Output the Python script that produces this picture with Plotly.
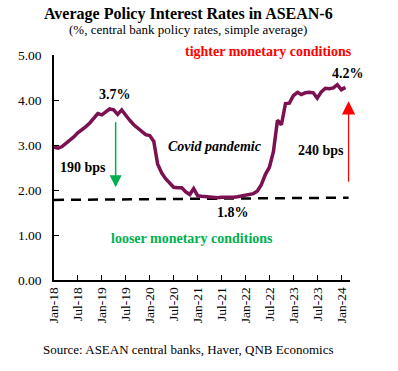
import plotly.graph_objects as go
import pandas as pd

# ---- data ----
months = pd.date_range("2018-01-01", "2024-02-01", freq="MS")
policy_rate = [2.95, 2.93, 2.96, 3.03, 3.10, 3.18, 3.27, 3.33, 3.41, 3.49,
               3.60, 3.70, 3.67, 3.74, 3.80, 3.78, 3.68, 3.78, 3.66, 3.55,
               3.45, 3.37, 3.29, 3.23, 3.21, 3.08, 2.58, 2.38, 2.25, 2.15,
               2.06, 2.05, 2.05, 1.96, 1.90, 2.03, 1.87, 1.86, 1.85, 1.85,
               1.84, 1.83, 1.84, 1.84, 1.83, 1.84, 1.85, 1.87, 1.90, 1.91,
               1.92, 1.98, 2.12, 2.35, 2.50, 2.85, 3.55, 3.45, 3.92, 3.93,
               4.10, 4.17, 4.12, 4.16, 4.17, 4.16, 4.04, 4.18, 4.26, 4.25,
               4.27, 4.34, 4.23, 4.28]
trend_dates = ["2018-01-01", "2024-02-25"]
trend_values = [1.78, 1.83]
y_ticks = [0, 1, 2, 3, 4, 5]

serif = "Liberation Serif, Times New Roman, serif"
line_color = "#7B1150"
green = "#00B050"
red = "#FF0000"

fig = go.Figure()
fig.add_trace(go.Scatter(x=trend_dates, y=trend_values, mode="lines",
                         line=dict(color="black", width=2.5, dash="10px,7px"),
                         hoverinfo="skip", showlegend=False))
fig.add_trace(go.Scatter(x=months, y=policy_rate, mode="lines",
                         line=dict(color=line_color, width=3.5),
                         showlegend=False))

def txt(x, y, s, color="black", size=14, bold=True, italic=False,
        xref="x", yref="y"):
    t = s
    if bold:
        t = "<b>" + t + "</b>"
    if italic:
        t = "<i>" + t + "</i>"
    fig.add_annotation(x=x, y=y, xref=xref, yref=yref, text=t, showarrow=False,
                       xanchor="center", yanchor="middle",
                       font=dict(family=serif, size=size, color=color))

txt("2019-04-10", 4.12, "3.7%")
txt("2018-08-10", 2.49, "190 bps")
txt("2021-05-12", 2.96, "Covid pandemic", italic=True)
txt(0.726, 1.015, "tighter monetary conditions", color=red,
    xref="paper", yref="paper")
txt("2024-02-18", 4.58, "4.2%")
txt("2023-07-28", 2.88, "240 bps")
txt("2021-09-28", 1.51, "1.8%")
txt("2020-11-18", 0.92, "looser monetary conditions", color=green)

# arrows
fig.add_annotation(x="2019-04-16", y=2.06, ax="2019-04-16", ay=3.54,
                   xref="x", yref="y", axref="x", ayref="y", text="",
                   showarrow=True, arrowhead=2, arrowsize=1.6, arrowwidth=1.5,
                   arrowcolor=green)
fig.add_annotation(x="2024-02-25", y=3.97, ax="2024-02-25", ay=2.15,
                   xref="x", yref="y", axref="x", ayref="y", text="",
                   showarrow=True, arrowhead=2, arrowsize=2.2, arrowwidth=1.2,
                   arrowcolor=red)

# titles / source
txt(0.453, 1.182, "Average Policy Interest Rates in ASEAN-6", size=16,
    xref="paper", yref="paper")
txt(0.453, 1.114, "(%, central bank policy rates, simple average)", size=13,
    bold=False, xref="paper", yref="paper")
txt(0.453, -0.311, "Source: ASEAN central banks, Haver, QNB Economics", size=13,
    bold=False, xref="paper", yref="paper")

fig.update_layout(
    width=398, height=371,
    margin=dict(l=54, r=48, t=55, b=91),
    paper_bgcolor="white", plot_bgcolor="white",
    font=dict(family=serif, color="black"),
)
fig.update_xaxes(type="date", range=["2018-01-01", "2024-03-07"],
                 tick0="2018-01-01", dtick="M6", tickformat="%b-%y",
                 tickangle=-90, ticks="inside", ticklen=5, tickcolor="black",
                 showline=True, linecolor="black", linewidth=1.5,
                 showgrid=False, zeroline=False,
                 tickfont=dict(family=serif, size=13.5, color="black"))
fig.update_yaxes(range=[0, 5], tickvals=y_ticks, tickformat=".2f",
                 ticks="inside", ticklen=5, tickcolor="black",
                 showline=True, linecolor="black", linewidth=1.5,
                 showgrid=False, zeroline=False, ticklabelstandoff=8,
                 tickfont=dict(family=serif, size=13.5, color="black"))

fig.write_html("out.html", config={"displayModeBar": False},
               post_script="document.body.style.margin='0';")
